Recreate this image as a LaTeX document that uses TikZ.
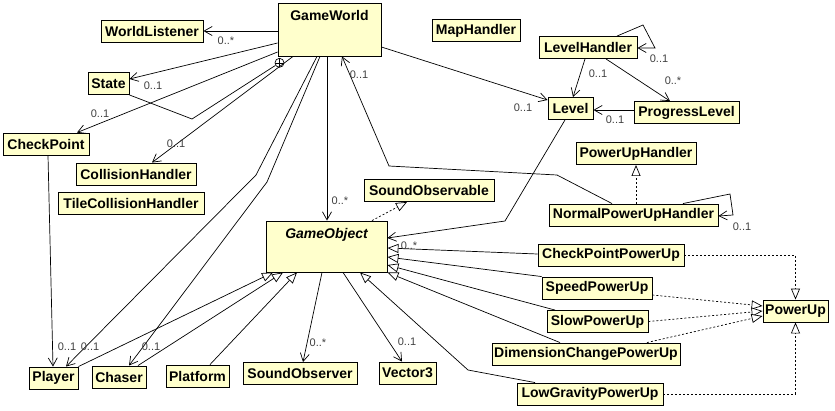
\documentclass[tikz,border=0pt]{standalone}
\usepackage{fontspec}
\setmainfont{Liberation Sans}
\usetikzlibrary{arrows.meta}
\definecolor{clsfill}{RGB}{255,255,204}
\definecolor{multgray}{RGB}{64,64,64}

\begin{document}
\begin{tikzpicture}[x=1pt,y=-1pt,
    cls/.style={draw, fill=clsfill, line width=0.9pt, minimum height=22pt, inner sep=1pt,
        font=\fontsize{14}{16}\selectfont\bfseries},
    mult/.style={font=\fontsize{11}{13}\selectfont, text=multgray, inner sep=0pt},
    link/.style={line width=0.7pt},
    assoc/.style={link, -{Straight Barb[length=8pt,width=9pt]}},
    inherit/.style={link, -{Triangle[length=11pt,width=9pt,fill=white]}},
    realize/.style={inherit, dash pattern=on 2pt off 2pt}]
    \fill[white] (0,0) rectangle (835,410);
    \useasboundingbox (0,0) rectangle (835,410);

    % classes
    \node[cls, minimum width=103pt, minimum height=53pt, text depth=28.8pt] (GameWorld) at (329.5,29.5) {GameWorld};
    \node[cls, minimum width=102pt] (WorldListener) at (152,31) {WorldListener};
    \node[cls, minimum width=41pt] (State) at (108.5,83.5) {State};
    \node[cls, minimum width=86pt] (CheckPoint) at (46,144) {CheckPoint};
    \node[cls, minimum width=120pt] (CollisionHandler) at (136,174) {CollisionHandler};
    \node[cls, minimum width=146pt] (TileCollisionHandler) at (131,203) {TileCollisionHandler};
    \node[cls, minimum width=88pt] (MapHandler) at (476,30.5) {MapHandler};
    \node[cls, minimum width=98pt] (LevelHandler) at (588,47.5) {LevelHandler};
    \node[cls, minimum width=45pt] (Level) at (570.5,108.5) {Level};
    \node[cls, minimum width=105pt] (ProgressLevel) at (686.5,112.5) {ProgressLevel};
    \node[cls, minimum width=120pt] (PowerUpHandler) at (636,153.5) {PowerUpHandler};
    \node[cls, minimum width=169pt] (NormalPowerUpHandler) at (633.5,215) {NormalPowerUpHandler};
    \node[cls, minimum width=130pt] (SoundObservable) at (429,190.5) {SoundObservable};
    \node[cls, minimum width=121pt, minimum height=51pt, text depth=26.8pt] (GameObject) at (326.5,246.5) {\itshape GameObject};
    \node[cls, minimum width=65pt] (PowerUp) at (795.5,311) {PowerUp};
    \foreach \nm/\x/\y/\w in {CheckPoint/611/255/146, Speed/597/288/110, Slow/597.5/321.5/101,
        DimensionChange/586/354/188, LowGravity/590/394/146}
        \node[cls, minimum width=\w pt] (\nm PowerUp) at (\x,\y) {\nm PowerUp};
    \foreach \nm/\x/\y/\w in {Player/53.5/378/49, Chaser/119/377/54, Platform/197.5/376/63,
        SoundObserver/300/373.5/114, Vector3/407.5/373/57}
        \node[cls, minimum width=\w pt] (\nm) at (\x,\y) {\nm};

    % nested class marker
    \node[circle, draw, fill=white, line width=0.7pt, minimum size=9pt, inner sep=0pt,
        path picture={\draw[line width=0.6pt] (path picture bounding box.north) -- (path picture bounding box.south)
            (path picture bounding box.west) -- (path picture bounding box.east);}] (nest) at (279.5,62.8) {};

    % associations
    \draw[assoc] (GameWorld.west |- WorldListener) -- (WorldListener.east);
    \draw[assoc] (GameWorld.west |- 0,43) -- (State.east |- 0,79);
    \draw[link] (State.south east) -- (192,119) -- (nest);
    \draw[assoc] (GameWorld.west |- 0,52) -- (CheckPoint.north -| 77,0);
    \draw[assoc] (GameWorld.south -| 293,0) -- (CollisionHandler.north -| 152,0);
    \draw[assoc] (GameWorld.south -| 317,0) -- (256,175) -- (Player.north -| 66,0);
    \draw[assoc] (GameWorld.south -| 320,0) -- (267,182) -- (Chaser.north -| 129,0);
    \draw[assoc] (GameWorld.south -| 327,0) -- (GameObject.north -| 327,0);
    \draw[assoc] (GameWorld.east |- 0,47) -- (Level.west |- 0,100);
    \draw[assoc] (NormalPowerUpHandler.north -| 612,0) -- (557,175) -- (389,166) -- (GameWorld.south -| 342,0);
    \draw[assoc] (Level.south -| 565,0) -- (505,221) -- (GameObject.east |- 0,238);
    \draw[assoc] (LevelHandler.north -| 617,0) -- (643,25) -- (655,48) -- (LevelHandler.east |- 0,48);
    \draw[assoc] (LevelHandler.south -| 585,0) -- (Level.north -| 573,0);
    \draw[assoc] (LevelHandler.south -| 606,0) -- (ProgressLevel.north -| 670,0);
    \draw[assoc] (ProgressLevel.west |- 0,110) -- (Level.east |- 0,110);
    \draw[assoc] (NormalPowerUpHandler.north -| 683,0) -- (730,194) -- (733,215) -- (NormalPowerUpHandler.east |- 0,216);
    \draw[assoc] (GameObject.south -| 322,0) -- (SoundObserver.north -| 303,0);
    \draw[assoc] (GameObject.south -| 343,0) -- (Vector3.north -| 402,0);
    \draw[assoc] (CheckPoint.south -| 48,0) -- (Player.north -| 53,0);

    % generalizations
    \draw[inherit] (CheckPointPowerUp.west |- 0,254) -- (GameObject.east |- 0,248);
    \draw[inherit] (SpeedPowerUp.north west) -- (GameObject.east |- 0,257);
    \draw[inherit] (SlowPowerUp.north -| 555,0) -- (GameObject.east |- 0,265);
    \draw[inherit] (DimensionChangePowerUp.north -| 560,0) -- (GameObject.south east);
    \draw[inherit] (LowGravityPowerUp.north -| 535,0) -- (468,370) -- (GameObject.south -| 360,0);
    \draw[inherit] (Player.north east) -- (GameObject.south -| 273,0);
    \draw[inherit] (Chaser.north -| 138,0) -- (GameObject.south -| 283,0);
    \draw[inherit] (Platform.north -| 210,0) -- (GameObject.south -| 297,0);

    % realizations
    \draw[realize] (NormalPowerUpHandler.north -| 636,0) -- (PowerUpHandler.south -| 636,0);
    \draw[realize] (GameObject.north -| 372,0) -- (SoundObservable.south -| 407,0);
    \draw[realize] (CheckPointPowerUp.east) -- (PowerUp.north |- CheckPointPowerUp.east) -- (PowerUp.north);
    \draw[realize] (SpeedPowerUp.east |- 0,295) -- (PowerUp.west |- 0,306);
    \draw[realize] (SlowPowerUp.east) -- (PowerUp.west |- 0,311);
    \draw[realize] (DimensionChangePowerUp.north -| 647,0) -- (PowerUp.west |- 0,316);
    \draw[realize] (LowGravityPowerUp.east) -- (PowerUp.south |- LowGravityPowerUp.east) -- (PowerUp.south);

    % multiplicities
    \foreach[count=\i] \lx/\ly/\lt in {226/41/{0..*}, 153/86/{0..1}, 100/114/{0..1}, 176/144/{0..1},
        340/201/{0..*}, 359/75/{0..1}, 523/108/{0..1}, 659/59/{0..1}, 598/74/{0..1}, 673/81/{0..*},
        615/120/{0..1}, 742/227/{0..1}, 409/246/{0..*}, 318/343/{0..*}, 407/342/{0..1},
        67/347/{0..1}, 90/347/{0..1}, 151/347/{0..1}}
        \node[mult] (m-\i) at (\lx,\ly) {\lt};
\end{tikzpicture}
\end{document}
